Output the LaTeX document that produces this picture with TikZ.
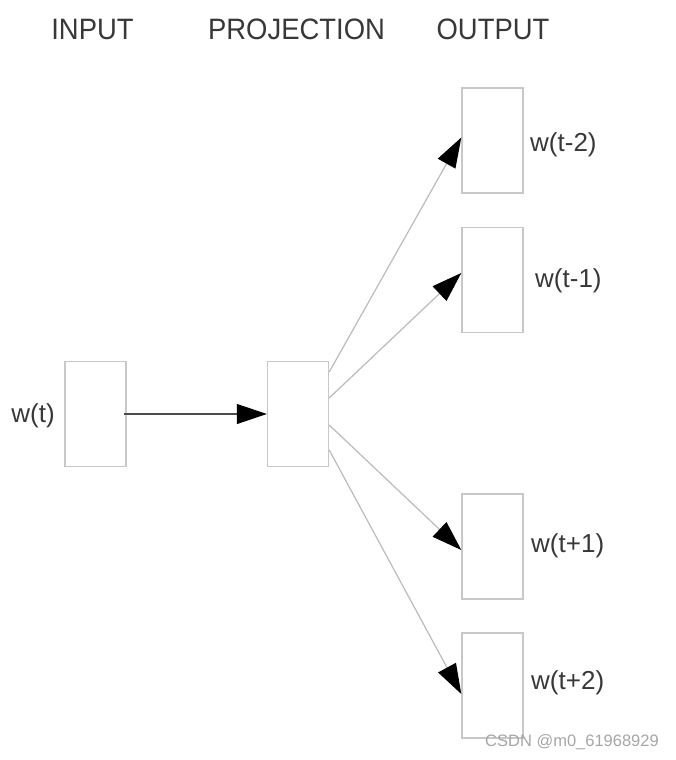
\documentclass[tikz,border=0pt]{standalone}
\usepackage{fontspec}
\usepackage{graphicx}
\setmainfont{Liberation Sans}
\usetikzlibrary{arrows.meta}
\definecolor{boxgray}{HTML}{C8C8C8}
\definecolor{linegray}{HTML}{BBBBBB}
\definecolor{txtgray}{HTML}{383838}
\newcommand{\headtxt}[1]{\scalebox{0.93}[1]{#1}}
\begin{document}
\begin{tikzpicture}[x=1pt,y=-1pt,
  unit/.style={draw=boxgray,line width=1.4pt,minimum width=61pt,minimum height=105pt,inner sep=0pt,fill=white},
  lbl/.style={text=txtgray,font=\fontsize{26}{28}\selectfont,inner sep=0pt},
  head/.style={text=txtgray,font=\fontsize{29.5}{32}\selectfont,inner sep=0pt},
  conn/.style={draw=linegray,line width=1.2pt,-{Triangle[length=30pt,width=20pt,black]}},
  mainconn/.style={draw=black!70,line width=1.2pt,-{Triangle[length=30pt,width=20pt,black]}}]
\useasboundingbox (0,0) rectangle (675,760);
% headings
\node[head] (hin) at (92.5,29.5) {\headtxt{INPUT}};
\node[head] (hproj) at (296.5,29.5) {\headtxt{PROJECTION}};
\node[head] (hout) at (493,29.5) {\headtxt{OUTPUT}};
% boxes
\node[unit] (in) at (95.5,414) {};
\node[unit] (proj) at (298,414) {};
\node[unit] (o1) at (492.5,140.5) {};
\node[unit] (o2) at (492.5,280) {};
\node[unit] (o3) at (492.5,546.5) {};
\node[unit] (o4) at (492.5,685.5) {};
% labels
\node[lbl] (lin) at (33,416) {w(t)};
\node[lbl,anchor=west] (l1) at (530,145) {w(t-2)};
\node[lbl,anchor=west] (l2) at (535,281) {w(t-1)};
\node[lbl,anchor=west] (l3) at (531,546) {w(t+1)};
\node[lbl,anchor=west] (l4) at (531,683) {w(t+2)};
% connectors
\coordinate (s0) at ([xshift=-3pt]in.east);
\draw[mainconn] (s0) -- (proj.west);
\draw[conn] ([yshift=42pt]proj.east) -- ([yshift=3pt]o1.west);
\draw[conn] ([yshift=16pt]proj.east) -- ([yshift=7pt]o2.west);
\draw[conn] ([yshift=-11pt]proj.east) -- ([yshift=-3.5pt]o3.west);
\draw[conn] ([yshift=-36pt]proj.east) -- ([yshift=-8.5pt]o4.west);
% watermark
\node[text=black!35,font=\fontsize{16.5}{18}\selectfont,inner sep=0pt] (wm) at (572,742) {CSDN @m0\_61968929};
\end{tikzpicture}
\end{document}
